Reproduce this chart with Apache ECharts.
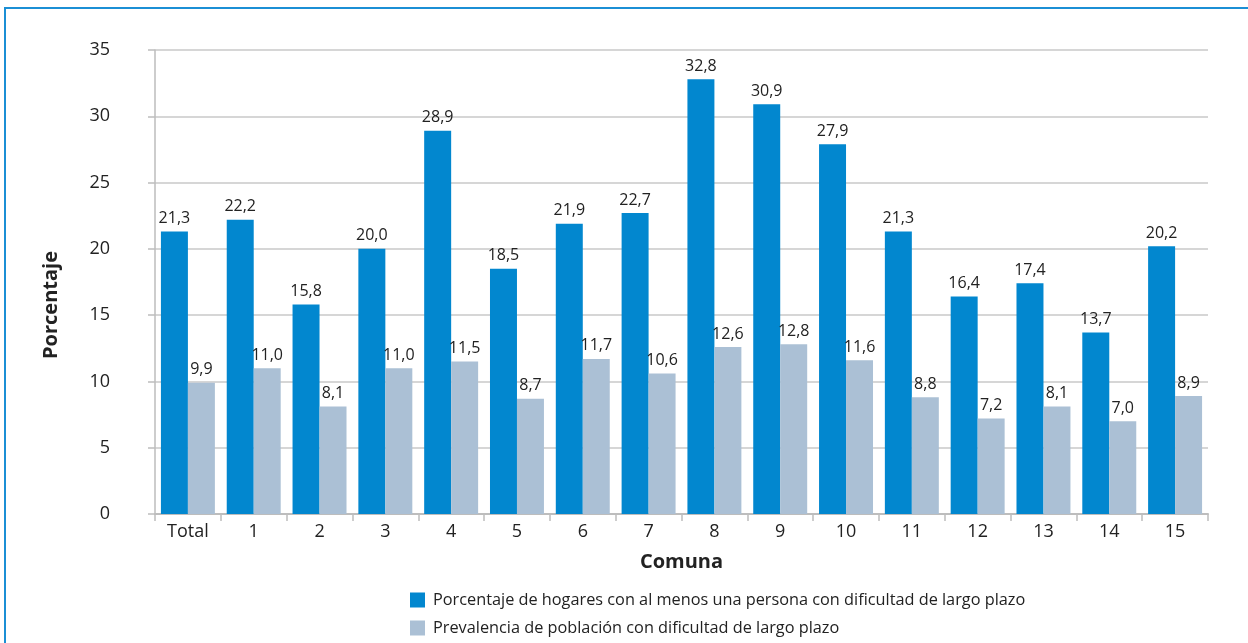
<!DOCTYPE html>
<html>
<head>
<meta charset="utf-8">
<script src="https://cdn.jsdelivr.net/npm/echarts@6/dist/echarts.min.js"></script>
<style>
  html, body { margin: 0; padding: 0; background: #fff; }
  #frame { position: absolute; left: 4px; top: 7px; width: 1244px; height: 636px;
           border-top: 2px solid #1b8fd5; border-left: 2px solid #1b8fd5; box-sizing: border-box; }
  #chart { position: absolute; left: 0; top: 0; width: 1248px; height: 643px; }
</style>
</head>
<body>
<div id="frame"></div>
<div id="chart"></div>
<script>
// Comunas y totales
const categories = ['Total', '1', '2', '3', '4', '5', '6', '7', '8', '9', '10', '11', '12', '13', '14', '15'];
const hogares = [21.3, 22.2, 15.8, 20.0, 28.9, 18.5, 21.9, 22.7, 32.8, 30.9, 27.9, 21.3, 16.4, 17.4, 13.7, 20.2];
const prevalencia = [9.9, 11.0, 8.1, 11.0, 11.5, 8.7, 11.7, 10.6, 12.6, 12.8, 11.6, 8.8, 7.2, 8.1, 7.0, 8.9];
const yTicks = [0, 5, 10, 15, 20, 25, 30, 35];

const seriesNames = [
  'Porcentaje de hogares con al menos una persona con dificultad de largo plazo',
  'Prevalencia de población con dificultad de largo plazo'
];

const font = '"Open Sans", "Noto Sans", sans-serif';
const fmt = p => p.value.toFixed(1).replace('.', ',');

const legendBase = {
  left: 405,
  itemWidth: 15,
  itemHeight: 15,
  icon: 'rect',
  selectedMode: false,
  textStyle: { fontFamily: font, fontSize: 16.3, color: '#222', padding: [0, 0, 0, 3] }
};

const chart = echarts.init(document.getElementById('chart'), null, { renderer: 'canvas' });
chart.setOption({
  animation: false,
  textStyle: { fontFamily: font },
  grid: { left: 155, top: 50, width: 1053, height: 464, containLabel: false },
  legend: [
    Object.assign({}, legendBase, { top: 587, data: [seriesNames[0]] }),
    Object.assign({}, legendBase, { top: 615, data: [seriesNames[1]] })
  ],
  xAxis: {
    type: 'category',
    data: categories,
    name: 'Comuna',
    nameLocation: 'middle',
    nameGap: 38,
    nameTextStyle: { fontSize: 20, fontWeight: 'bold', color: '#222', fontFamily: font },
    axisLine: { lineStyle: { color: '#bdbdbd', width: 2 } },
    axisTick: { show: true, length: 7, lineStyle: { color: '#bdbdbd', width: 1.5 } },
    axisLabel: { fontSize: 18, color: '#222', margin: 9 }
  },
  yAxis: {
    type: 'value',
    min: 0,
    max: 35,
    interval: 5,
    axisLine: { show: true, lineStyle: { color: '#bdbdbd', width: 1.5 } },
    axisTick: { show: true, length: 7, lineStyle: { color: '#bdbdbd', width: 1.5 } },
    splitLine: { lineStyle: { color: '#c8c8c8', width: 1.5 } },
    axisLabel: {
      fontSize: 18, color: '#222', margin: 45,
      formatter: v => yTicks.includes(v) ? String(v) : ''
    }
  },
  graphic: [{
    type: 'text',
    left: 41,
    top: 251,
    rotation: Math.PI / 2,
    style: { text: 'Porcentaje', font: 'bold 20px ' + font, fill: '#222' }
  }],
  series: [
    {
      name: seriesNames[0],
      type: 'bar',
      data: hogares,
      barGap: '0%',
      barCategoryGap: '18%',
      itemStyle: { color: '#0287cf' },
      label: { show: true, position: 'top', distance: 5, fontSize: 16, color: '#222', formatter: fmt }
    },
    {
      name: seriesNames[1],
      type: 'bar',
      data: prevalencia,
      itemStyle: { color: '#abc0d5' },
      label: { show: true, position: 'top', distance: 5, fontSize: 16, color: '#222', formatter: fmt }
    }
  ]
});
</script>
</body>
</html>
